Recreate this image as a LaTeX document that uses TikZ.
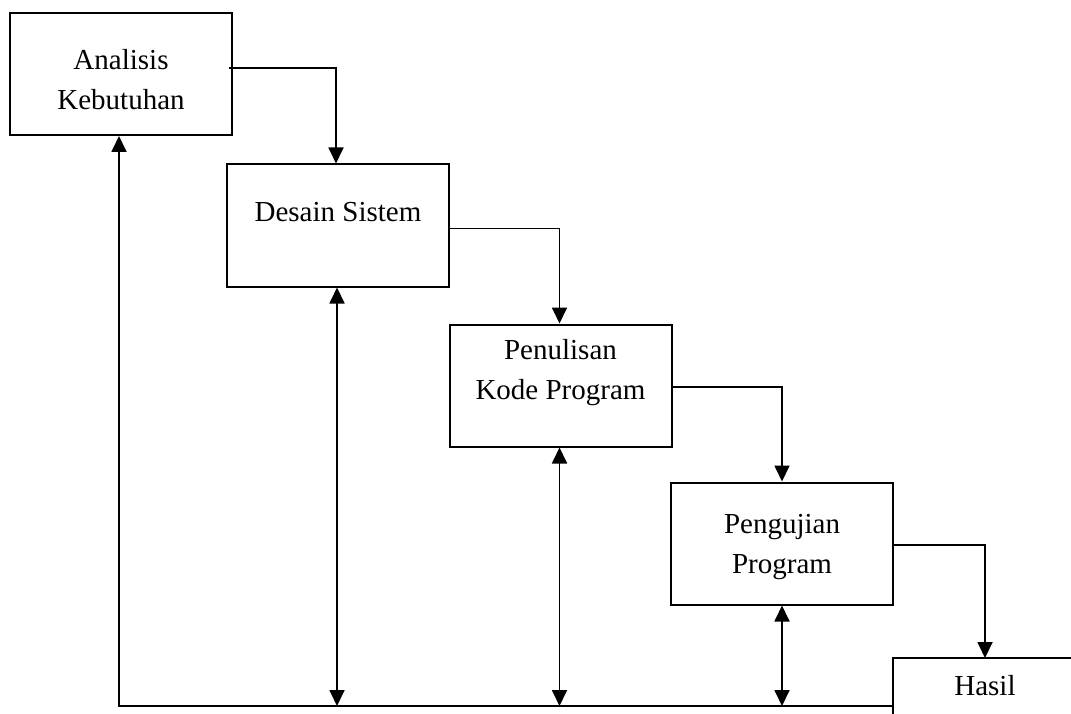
\documentclass[tikz,border=0pt]{standalone}
\usepackage{fontspec}
\setmainfont{Liberation Serif}
\usetikzlibrary{arrows.meta}
\begin{document}
\begin{tikzpicture}[x=1pt,y=-1pt,
  box/.style={draw, line width=2pt, inner sep=0pt, minimum width=222pt, minimum height=122pt},
  txt/.style={anchor=center, align=center, font=\fontsize{29}{40}\selectfont, inner sep=0pt},
  conn/.style={line width=1.8pt, -{Triangle[width=15pt,length=16pt]}},
  conn2/.style={line width=1.8pt, {Triangle[width=15pt,length=16pt]}-{Triangle[width=15pt,length=16pt]}},
  plain/.style={line width=1.8pt}]
\useasboundingbox (0,0) rectangle (1071,714);
\clip (0,0) rectangle (1071,714);
% boxes
\node[box, label={[txt,yshift=-6pt]center:Analisis\\Kebutuhan}] (ak) at (121,74) {};
\node[box, label={[txt,yshift=13pt]center:Desain Sistem}] (ds) at (338,225.5) {};
\node[box, label={[txt,yshift=13pt]center:Penulisan\\Kode Program}] (pk) at (560.5,385.5) {};
\node[box, label={[txt,yshift=-4pt]center:Pengujian\\Program}] (pp) at (782,543.5) {};
\node[txt] (hs) at (985,686) {Hasil};
% Hasil partial border
\coordinate (hsl) at (893,658);
\coordinate (hsr) at (1090,658);
\coordinate (hsb) at (893,730);
\coordinate (hstop) at (985,658);
\draw[line width=2pt] (hsr) -- (hsl) -- (hsb);
% bottom line
\coordinate (bl) at (119,706);
\coordinate (br) at (893,706);
% forward flow
\draw[conn] ([xshift=-4pt,yshift=6pt]ak.east) -| ([xshift=-2pt]ds.north);
\draw[conn] ([yshift=-3pt]ds.east) -| ([xshift=-1pt]pk.north);
\draw[conn] ([yshift=-1.5pt]pk.east) -| (pp.north);
\draw[conn] ([yshift=-1.5pt]pp.east) -| (hstop);
% feedback
\draw[conn] (br) -- (bl) -- (bl |- ak.south);
\draw[conn2] ([xshift=-1pt]ds.south) -- ([xshift=-1pt]ds.south |- bl);
\draw[conn2] ([xshift=-1pt]pk.south) -- ([xshift=-1pt]pk.south |- bl);
\draw[conn2] (pp.south) -- (pp.south |- bl);
\end{tikzpicture}
\end{document}
